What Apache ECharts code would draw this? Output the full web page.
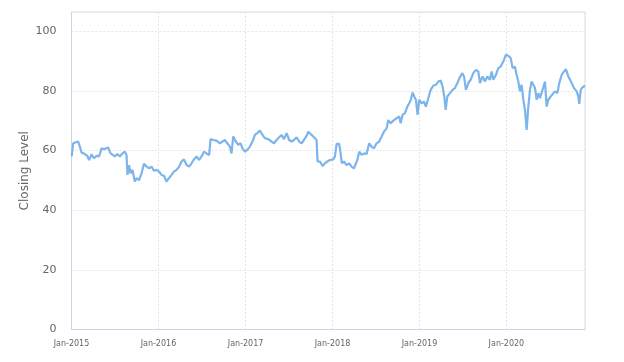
<!DOCTYPE html>
<html>
<head>
<meta charset="utf-8">
<script src="https://cdn.jsdelivr.net/npm/echarts@6/dist/echarts.min.js"></script>
<style>
html,body{margin:0;padding:0;background:#fff;}
#chart{width:624px;height:362px;}
</style>
</head>
<body>
<div id="chart"></div>
<script>
const dates = [
'2015-01-02','2015-01-08','2015-01-15','2015-01-29','2015-02-05','2015-02-12','2015-02-26','2015-03-08','2015-03-16','2015-03-26',
'2015-04-05','2015-04-16','2015-04-27','2015-05-07','2015-05-17','2015-05-25','2015-06-04','2015-06-14','2015-06-22','2015-07-02',
'2015-07-12','2015-07-23','2015-08-03','2015-08-13','2015-08-20','2015-08-24','2015-08-31','2015-09-06','2015-09-14','2015-09-24',
'2015-10-01','2015-10-12','2015-10-22','2015-11-01','2015-11-12','2015-11-23','2015-12-03','2015-12-13','2015-12-24','2016-01-04',
'2016-01-14','2016-01-24','2016-02-04','2016-02-14','2016-02-25','2016-03-06','2016-03-17','2016-03-28','2016-04-07','2016-04-17',
'2016-04-28','2016-05-09','2016-05-19','2016-05-29','2016-06-09','2016-06-20','2016-06-30','2016-07-10','2016-07-21','2016-08-01',
'2016-08-07','2016-08-18','2016-09-01','2016-09-15','2016-09-26','2016-10-06','2016-10-16','2016-10-27','2016-11-03','2016-11-10',
'2016-11-21','2016-12-01','2016-12-11','2016-12-19','2016-12-29','2017-01-08','2017-01-19','2017-01-30','2017-02-09','2017-02-19',
'2017-03-02','2017-03-13','2017-03-23','2017-04-06','2017-04-20','2017-04-30','2017-05-11','2017-05-22','2017-06-01','2017-06-11',
'2017-06-22','2017-07-03','2017-07-13','2017-07-23','2017-08-03','2017-08-14','2017-08-24','2017-09-03','2017-09-14','2017-09-21',
'2017-10-01','2017-10-12','2017-10-20','2017-10-26','2017-10-30','2017-11-06','2017-11-09','2017-11-20','2017-11-30','2017-12-10',
'2017-12-21','2018-01-04','2018-01-11','2018-01-18','2018-01-29','2018-02-04','2018-02-09','2018-02-18','2018-03-01','2018-03-12',
'2018-03-22','2018-04-01','2018-04-09','2018-04-15','2018-04-23','2018-05-03','2018-05-13','2018-05-24','2018-06-04','2018-06-14',
'2018-06-24','2018-07-05','2018-07-16','2018-07-26','2018-08-05','2018-08-16','2018-08-23','2018-09-02','2018-09-13','2018-09-27',
'2018-10-08','2018-10-14','2018-10-22','2018-11-01','2018-11-11','2018-11-19','2018-11-26','2018-12-03','2018-12-10','2018-12-17',
'2018-12-24','2018-12-31','2019-01-10','2019-01-20','2019-01-28','2019-02-07','2019-02-17','2019-02-28','2019-03-11','2019-03-21',
'2019-03-31','2019-04-08','2019-04-15','2019-04-21','2019-04-28','2019-05-09','2019-05-20','2019-05-30','2019-06-09','2019-06-20',
'2019-06-30','2019-07-07','2019-07-15','2019-07-25','2019-08-04','2019-08-15','2019-08-26','2019-09-05','2019-09-12','2019-09-23',
'2019-10-03','2019-10-13','2019-10-24','2019-10-31','2019-11-07','2019-11-18','2019-11-28','2019-12-08','2019-12-19','2019-12-30',
'2020-01-09','2020-01-19','2020-01-27','2020-02-06','2020-02-13','2020-02-20','2020-02-27','2020-03-05','2020-03-12','2020-03-19',
'2020-03-26','2020-04-02','2020-04-09','2020-04-16','2020-04-23','2020-04-30','2020-05-07','2020-05-14','2020-05-21','2020-05-28',
'2020-06-04','2020-06-11','2020-06-18','2020-06-25','2020-07-05','2020-07-13','2020-07-23','2020-08-02','2020-08-10','2020-08-20',
'2020-08-30','2020-09-07','2020-09-17','2020-09-24','2020-10-01','2020-10-11','2020-10-22','2020-10-29','2020-11-02','2020-11-08',
'2020-11-16','2020-11-26'
];
const closingLevel = [
58,62.4,63,63,61.3,59.3,58.8,58.2,56.8,58.7,
57.4,58.2,58,60.7,60.4,60.2,61,59,58.5,58,
58.8,58,59,59.6,58.5,51.8,55.1,52.3,53.5,49.6,
50.7,50.1,52.3,55.5,54.6,54,54.6,53.2,53.5,52.9,
51.8,51.5,49.6,50.7,51.8,52.9,53.5,54.6,56.3,57,
55.1,54.6,55.7,57,58,56.8,58,59.6,59,58.5,
63.8,63.5,63.3,62.4,63,63.5,62.4,61.3,59,64.7,
63,61.9,62.4,60.7,59.6,60.2,61.3,63,65.2,65.8,
66.7,65.2,64.1,63.8,63,62.4,63.5,64.4,65.2,63.8,
65.8,63.5,63,63.5,64.4,63,62.4,63.5,64.9,66.3,
65.5,64.7,64.1,63.5,56.3,55.7,56.3,54.8,55.7,56.3,
56.8,57,58,62.2,62.2,59,55.7,56.3,55.1,55.7,
54.6,54,54,56.8,59.6,58.5,59,58.8,62.4,61.3,
60.7,62.4,63,64.7,66.3,67.4,70.2,69.1,70,70.8,
71.4,69.1,71.9,72.5,74.7,75.8,77,79.4,78.1,77,
71.9,77,75.8,76.4,74.7,77.5,80.3,81.7,82,83.1,
83.4,81.4,78.1,73.6,78.1,79.2,80.3,80.9,82.6,84.6,
85.9,84.8,80.3,82.6,83.7,85.9,87,86.5,82.6,84.8,
83.1,84.8,83.7,86.5,83.7,85.3,87.6,88.1,89.8,92.1,
91.7,91,87.6,88.1,85.3,83.1,79.8,82,77,73.6,
66.9,74.7,80.3,83.1,83.7,80.9,77,79.2,77.5,78.1,
81.2,83.1,74.7,77,78.1,77.5,79.8,79.2,82.6,85.3,
86.5,87.2,84.8,85.3,82.6,80.9,79.8,78.1,75.6,80.3,
81.2,81.7
];
const yTicks = [0, 20, 40, 60, 80, 100];
const monthNames = ['Jan','Feb','Mar','Apr','May','Jun','Jul','Aug','Sep','Oct','Nov','Dec'];
const axisStart = '2015-01-01';
const axisEnd = '2020-11-26';

const seriesData = dates.map((d, i) => [d, closingLevel[i]]);
const YEAR = 365 * 24 * 3600 * 1000;

const chart = echarts.init(document.getElementById('chart'), null, {renderer: 'canvas'});
chart.setOption({
  animation: false,
  backgroundColor: '#ffffff',
  textStyle: {fontFamily: 'DejaVu Sans'},
  grid: {left: 71.5, right: 39, top: 12, bottom: 32.5, show: true, borderColor: '#d8dde8', borderWidth: 1, containLabel: false},
  xAxis: {
    type: 'time',
    min: axisStart,
    max: axisEnd,
    minInterval: YEAR,
    maxInterval: YEAR,
    axisLine: {show: true, lineStyle: {color: '#ccd6eb', width: 1}},
    axisTick: {show: false},
    splitLine: {show: true, lineStyle: {color: '#e3e3e3', type: [2, 2], width: 1}},
    axisLabel: {
      color: '#666666', fontSize: 8, margin: 10, fontFamily: 'DejaVu Sans',
      showMaxLabel: false,
      formatter: function (val) { const d = new Date(val); return monthNames[d.getMonth()] + '-' + d.getFullYear(); }
    }
  },
  yAxis: {
    type: 'value',
    min: 0,
    max: 106.4,
    interval: 20,
    name: 'Closing Level',
    nameLocation: 'middle',
    nameGap: 41,
    nameMoveOverlap: false,
    nameTextStyle: {color: '#666666', fontSize: 12, fontFamily: 'DejaVu Sans'},
    axisLine: {show: true, lineStyle: {color: '#ccd6eb', width: 1}},
    axisTick: {show: false},
    splitLine: {show: true, lineStyle: {color: '#e3e3e3', type: [2, 2], width: 1}},
    axisLabel: {
      color: '#666666', fontSize: 11, margin: 15, fontFamily: 'DejaVu Sans',
      showMaxLabel: false,
      formatter: function (v) { return yTicks.indexOf(v) >= 0 ? String(v) : ''; }
    }
  },
  series: [{
    type: 'line',
    data: seriesData,
    showSymbol: false,
    symbol: 'none',
    lineStyle: {color: '#7cb5ec', width: 2.2},
    itemStyle: {color: '#7cb5ec'}
  }]
});
</script>
</body>
</html>
